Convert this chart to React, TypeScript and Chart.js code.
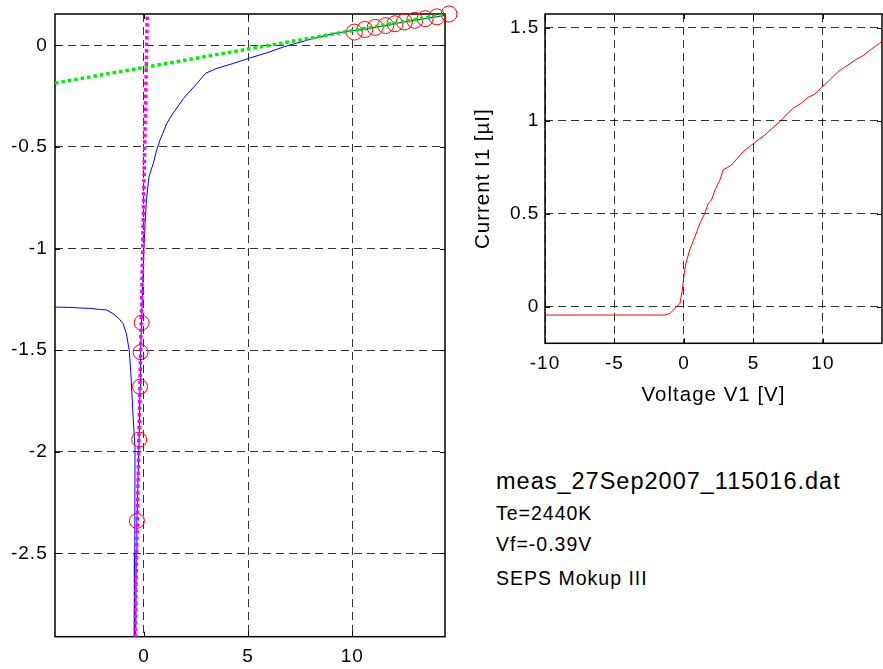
import React, { useEffect, useRef } from 'react';
import { Chart, registerables } from 'chart.js';

Chart.register(...registerables);

const FONT = '"Liberation Sans", Arial, Helvetica, sans-serif';

// ---------- data (left: log of electron current vs probe voltage) ----------
const probeVoltage = [
  -4.3, -3.5, -3.0, -2.5, -2.13, -1.8, -1.49, -1.2, -1.0, -0.84, -0.71, -0.63, -0.52, -0.43, -0.44, -0.46,
  -0.41, -0.37, -0.34, -0.28, -0.23, -0.19, -0.16, -0.12, -0.05, 0.0, 0.05, 0.12, 0.24, 0.45, 0.61, 0.77,
  1.1, 1.34, 1.9, 2.55, 2.95, 3.51, 4.3, 5.12, 5.93, 6.73, 8.0, 9.15, 9.95, 10.6, 11.1, 11.6, 12.0, 12.5,
  13.0, 13.5, 14.06, 14.54,
];
const logCurrent = [
  -1.288, -1.29, -1.293, -1.295, -1.3, -1.302, -1.32, -1.345, -1.37, -1.42, -1.5, -1.61, -1.83, -1.98, -2.5, -3.2,
  -3.2, -2.5, -2.34, -2.1, -1.94, -1.68, -1.51, -1.37, -1.15, -1.0, -0.88, -0.76, -0.647, -0.58, -0.516, -0.466,
  -0.384, -0.343, -0.261, -0.187, -0.138, -0.113, -0.089, -0.061, -0.036, -0.007, 0.03, 0.059, 0.072, 0.078, 0.088, 0.097, 0.106, 0.115,
  0.123, 0.131, 0.14, 0.149,
];
const electronFitSampleV = [10.1, 10.6, 11.1, 11.6, 12.05, 12.5, 13.0, 13.5, 14.06, 14.64];
const electronFitSampleLnI = [0.065, 0.078, 0.088, 0.097, 0.106, 0.115, 0.123, 0.131, 0.14, 0.154];
const ionFitSampleV = [-0.34, -0.23, -0.19, -0.16, -0.11];
const ionFitSampleLnI = [-2.34, -1.94, -1.68, -1.51, -1.365];
const electronFitLineV = [-4.27, 14.6];
const electronFitLineLnI = [-0.186, 0.155];
const ionFitLineV = [-0.45, 0.17];
const ionFitLineLnI = [-3.01, 0.204];

// ---------- data (right: I-V characteristic) ----------
const ivVoltage = [
  -10, -1.37, -1.0, -0.29, -0.12, 0.02, 0.14, 0.43, 0.79, 1.15, 1.5, 1.75, 1.98, 2.23, 2.59, 2.82, 3.42,
  4.26, 4.86, 5.82, 6.9, 7.85, 8.45, 8.93, 9.41, 9.89, 10.37, 11.09, 12.4, 12.88, 13.48, 14.08, 14.5,
];
const ivCurrent = [
  -0.045, -0.045, -0.036, 0.018, 0.09, 0.18, 0.233, 0.31, 0.377, 0.449, 0.503, 0.556, 0.574, 0.628, 0.682, 0.736, 0.763,
  0.834, 0.87, 0.924, 0.996, 1.068, 1.095, 1.127, 1.143, 1.18, 1.211, 1.265, 1.331, 1.35, 1.386, 1.418, 1.44,
];

// ---------- ticks & text ----------
const leftXTicks = [0, 5, 10];
const leftYTicks = [-2.5, -2, -1.5, -1, -0.5, 0];
const rightXTicks = [-10, -5, 0, 5, 10];
const rightYTicks = [0, 0.5, 1, 1.5];
const rightXTitle = 'Voltage V1 [V]';
const rightYTitle = 'Current I1 [µI]';
const infoLines = ['meas_27Sep2007_115016.dat', 'Te=2440K', 'Vf=-0.39V', 'SEPS Mokup III'];

const pts = (xs: number[], ys: number[]) => xs.map((x, i) => ({ x, y: ys[i] }));

const boxPlugin = {
  id: 'matlabBox',
  beforeDraw(chart: any) {
    chart.ctx.letterSpacing = '1px';
  },
  beforeDatasetsDraw(chart: any) {
    const { ctx, chartArea: a } = chart;
    const xs = chart.scales.x;
    const ys = chart.scales.y;
    ctx.save();
    ctx.setLineDash([]);
    ctx.strokeStyle = '#000';
    ctx.lineWidth = 1;
    const tl = 5;
    ctx.beginPath();
    xs.ticks.forEach((t: any) => {
      const p = Math.round(xs.getPixelForValue(t.value)) + 0.5;
      ctx.moveTo(p, a.bottom);
      ctx.lineTo(p, a.bottom - tl);
      ctx.moveTo(p, a.top);
      ctx.lineTo(p, a.top + tl);
    });
    ys.ticks.forEach((t: any) => {
      const p = Math.round(ys.getPixelForValue(t.value)) + 0.5;
      ctx.moveTo(a.left, p);
      ctx.lineTo(a.left + tl, p);
      ctx.moveTo(a.right, p);
      ctx.lineTo(a.right - tl, p);
    });
    ctx.stroke();
    ctx.lineWidth = 1.5;
    ctx.strokeRect(a.left, a.top, a.right - a.left, a.bottom - a.top);
    ctx.restore();
  },
};

function axis(min: number, max: number, ticks: number[], size: number, isX: boolean, padding: number, title?: any) {
  return {
    type: 'linear',
    min,
    max,
    afterBuildTicks: (s: any) => {
      s.ticks = ticks.map((v) => ({ value: v }));
    },
    afterFit: (s: any) => {
      if (isX) s.height = size;
      else s.width = size;
      s.paddingTop = 0;
      s.paddingBottom = 0;
      s.paddingLeft = 0;
      s.paddingRight = 0;
    },
    grid: { color: 'rgba(0,0,0,0.8)', lineWidth: 1, drawTicks: false },
    border: { display: false, dash: [8, 5] },
    ticks: {
      color: '#000',
      font: { family: FONT, size: 19 },
      padding,
      autoSkip: false,
      maxRotation: 0,
      callback: (v: any) => String(v),
    },
    title: title || { display: false },
  };
}

export default function App() {
  const leftRef = useRef<HTMLCanvasElement>(null);
  const rightRef = useRef<HTMLCanvasElement>(null);

  useEffect(() => {
    const dashed = { borderDash: [3.5, 3], borderWidth: 3.5, borderCapStyle: 'butt' };
    const left = new Chart(leftRef.current as HTMLCanvasElement, {
      type: 'scatter',
      data: {
        datasets: [
          { data: pts(ionFitLineV, ionFitLineLnI), showLine: true, pointRadius: 0, borderColor: '#ff00ff', ...dashed },
          { data: pts(electronFitLineV, electronFitLineLnI), showLine: true, pointRadius: 0, borderColor: '#00ee00', ...dashed },
          { data: pts(electronFitSampleV, electronFitSampleLnI), showLine: false, pointRadius: 8, pointBorderWidth: 1, pointBorderColor: '#ff0000', pointBackgroundColor: 'rgba(0,0,0,0)', clip: false },
          { data: pts(ionFitSampleV, ionFitSampleLnI), showLine: false, pointRadius: 7.5, pointBorderWidth: 1, pointBorderColor: '#ff0000', pointBackgroundColor: 'rgba(0,0,0,0)', clip: false },
          { data: pts(probeVoltage, logCurrent), showLine: true, pointRadius: 0, borderColor: '#0000ff', borderWidth: 1, tension: 0 },
        ],
      } as any,
      options: {
        animation: false,
        responsive: false,
        devicePixelRatio: 1,
        layout: { padding: { top: 14, right: 15, left: 0, bottom: 0 } },
        plugins: { legend: { display: false }, tooltip: { enabled: false } },
        scales: {
          x: axis(-4.27, 14.45, leftXTicks, 32.3, true, 9),
          y: axis(-2.91, 0.154, leftYTicks, 55, false, 7.3),
        },
      } as any,
      plugins: [boxPlugin],
    });

    const right = new Chart(rightRef.current as HTMLCanvasElement, {
      type: 'scatter',
      data: {
        datasets: [
          { data: pts(ivVoltage, ivCurrent), showLine: true, pointRadius: 0, borderColor: '#ff0000', borderWidth: 1, tension: 0 },
        ],
      } as any,
      options: {
        animation: false,
        responsive: false,
        devicePixelRatio: 1,
        layout: { padding: { top: 14, right: 1, left: 0, bottom: 0 } },
        plugins: { legend: { display: false }, tooltip: { enabled: false } },
        scales: {
          x: axis(-10, 14.25, rightXTicks, 66.7, true, 9, {
            display: true,
            text: rightXTitle,
            color: '#000',
            font: { family: FONT, size: 20.5 },
            padding: { top: 0, bottom: 2.5 },
          }),
          y: axis(-0.197, 1.575, rightYTicks, 85, false, 5.7, {
            display: true,
            text: rightYTitle,
            color: '#000',
            font: { family: FONT, size: 20.5 },
            padding: { top: 11.3, bottom: 0 },
          }),
        },
      } as any,
      plugins: [boxPlugin],
    });

    return () => {
      left.destroy();
      right.destroy();
    };
  }, []);

  const lineStyles = [
    { top: 469.6, size: 23.5 },
    { top: 504.2, size: 19.5 },
    { top: 535.2, size: 19.5 },
    { top: 569.0, size: 19.5 },
  ];

  return (
    <div style={{ position: 'fixed', left: 0, top: 0, width: 883, height: 669, background: '#fff', overflow: 'hidden' }}>
      <canvas ref={leftRef} width={460} height={669} style={{ position: 'absolute', left: 0, top: 0 }} />
      <canvas ref={rightRef} width={423} height={410} style={{ position: 'absolute', left: 460, top: 0 }} />
      {infoLines.map((t, i) => (
        <div
          key={i}
          style={{
            position: 'absolute',
            left: 496,
            top: lineStyles[i].top,
            fontFamily: FONT,
            fontSize: lineStyles[i].size,
            lineHeight: 1,
            letterSpacing: '1px',
            whiteSpace: 'nowrap',
            color: '#000',
          }}
        >
          {t}
        </div>
      ))}
    </div>
  );
}
